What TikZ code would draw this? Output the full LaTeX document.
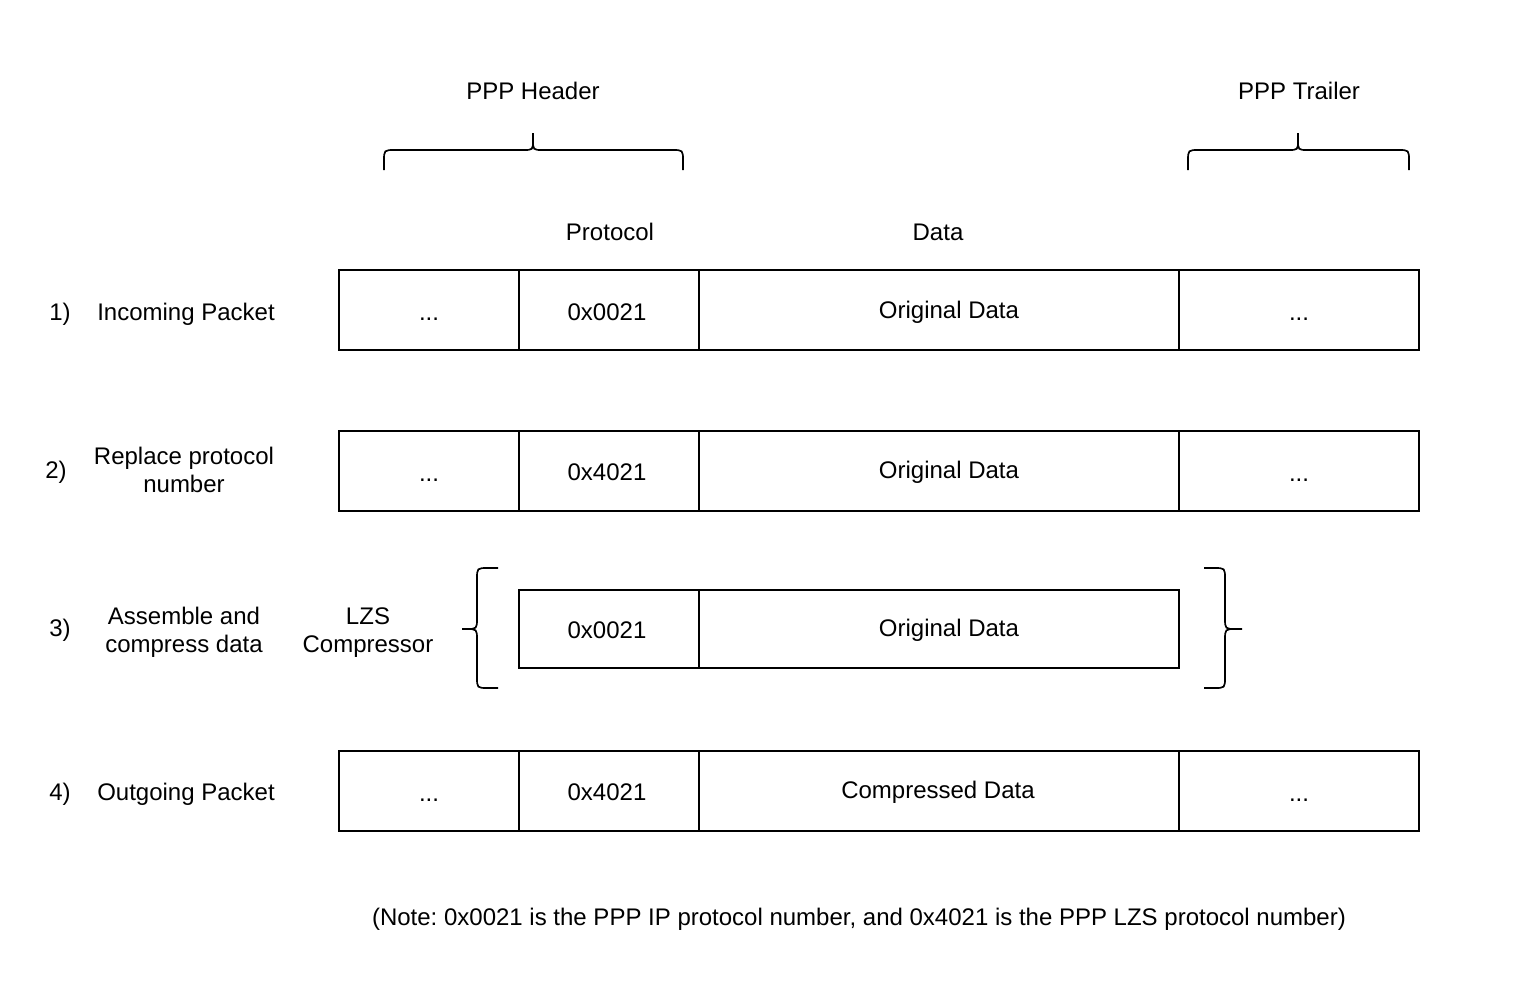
\documentclass[tikz,border=0pt]{standalone}
\usepackage{fontspec}
\setmainfont{Liberation Sans}
\frenchspacing
\begin{document}
\begin{tikzpicture}[x=1pt,y=-1pt,
  cell/.style={draw, line width=1.6pt, minimum height=80pt, inner sep=0pt},
  txt/.style={font=\fontsize{24}{28}\selectfont, text height=17pt, text depth=5pt, inner sep=0pt, align=center},
  brace/.style={line width=1.7pt, line join=round, line cap=butt}]
\useasboundingbox (0,0) rectangle (1514,1006);

% headers
\node[txt] (hdr) at (533,94) {PPP Header};
\node[txt] (trl) at (1299,94) {PPP Trailer};
\node[txt] (proto) at (610,234) {Protocol};
\node[txt] (data) at (938,234) {Data};

% braces top
\draw[brace] (384,170) -- (384,161) .. controls (384,150) .. (395,150) -- (523,150) .. controls (533,150) .. (533,140) -- (533,133);
\draw[brace] (683,170) -- (683,161) .. controls (683,150) .. (672,150) -- (543,150) .. controls (533,150) .. (533,140);
\draw[brace] (1188,170) -- (1188,161) .. controls (1188,150) .. (1199,150) -- (1288,150) .. controls (1298,150) .. (1298,140) -- (1298,133);
\draw[brace] (1409,170) -- (1409,161) .. controls (1409,150) .. (1398,150) -- (1308,150) .. controls (1298,150) .. (1298,140);

% row 1
\node[txt] (n1) at (60,314) {1)};
\node[txt] (l1) at (186,314) {Incoming Packet};
\node[cell, minimum width=180pt] (r1a) at (429,310) {};
\node[cell, minimum width=180pt] (r1b) at (609,310) {};
\node[cell, minimum width=480pt] (r1c) at (939,310) {};
\node[cell, minimum width=240pt] (r1d) at (1299,310) {};
\node[txt] (t1a) at (429,314) {...};
\node[txt] (t1b) at (607,314) {0x0021};
\node[txt] (t1c) at (949,312) {Original Data};
\node[txt] (t1d) at (1299,314) {...};

% row 2
\node[txt] (n2) at (56,472) {2)};
\node[txt] (l2) at (184,486) {Replace protocol\\number};
\node[cell, minimum width=180pt] (r2a) at (429,471) {};
\node[cell, minimum width=180pt] (r2b) at (609,471) {};
\node[cell, minimum width=480pt] (r2c) at (939,471) {};
\node[cell, minimum width=240pt] (r2d) at (1299,471) {};
\node[txt] (t2a) at (429,475) {...};
\node[txt] (t2b) at (607,474) {0x4021};
\node[txt] (t2c) at (949,472) {Original Data};
\node[txt] (t2d) at (1299,475) {...};

% row 3
\node[txt] (n3) at (60,630) {3)};
\node[txt] (l3) at (184,646) {Assemble and\\compress data};
\node[txt] (lzs) at (368,646) {LZS\\Compressor};
\node[cell, minimum width=180pt, minimum height=78pt] (r3b) at (609,629) {};
\node[cell, minimum width=480pt, minimum height=78pt] (r3c) at (939,629) {};
\node[txt] (t3b) at (607,632) {0x0021};
\node[txt] (t3c) at (949,630) {Original Data};
\draw[brace] (498,568) -- (488,568) .. controls (477,568) .. (477,579) -- (477,618) .. controls (477,629) .. (466,629) -- (462,629);
\draw[brace] (498,688) -- (488,688) .. controls (477,688) .. (477,677) -- (477,640) .. controls (477,629) .. (466,629);
\draw[brace] (1204,568) -- (1214,568) .. controls (1225,568) .. (1225,579) -- (1225,618) .. controls (1225,629) .. (1236,629) -- (1242,629);
\draw[brace] (1204,688) -- (1214,688) .. controls (1225,688) .. (1225,677) -- (1225,640) .. controls (1225,629) .. (1236,629);

% row 4
\node[txt] (n4) at (60,794) {4)};
\node[txt] (l4) at (186,794) {Outgoing Packet};
\node[cell, minimum width=180pt] (r4a) at (429,791) {};
\node[cell, minimum width=180pt] (r4b) at (609,791) {};
\node[cell, minimum width=480pt] (r4c) at (939,791) {};
\node[cell, minimum width=240pt] (r4d) at (1299,791) {};
\node[txt] (t4a) at (429,795) {...};
\node[txt] (t4b) at (607,794) {0x4021};
\node[txt] (t4c) at (938,792) {Compressed Data};
\node[txt] (t4d) at (1299,795) {...};

% note
\node[txt] (note) at (859,919) {(Note: 0x0021 is the PPP IP protocol number, and 0x4021 is the PPP LZS protocol number)};
\end{tikzpicture}
\end{document}
